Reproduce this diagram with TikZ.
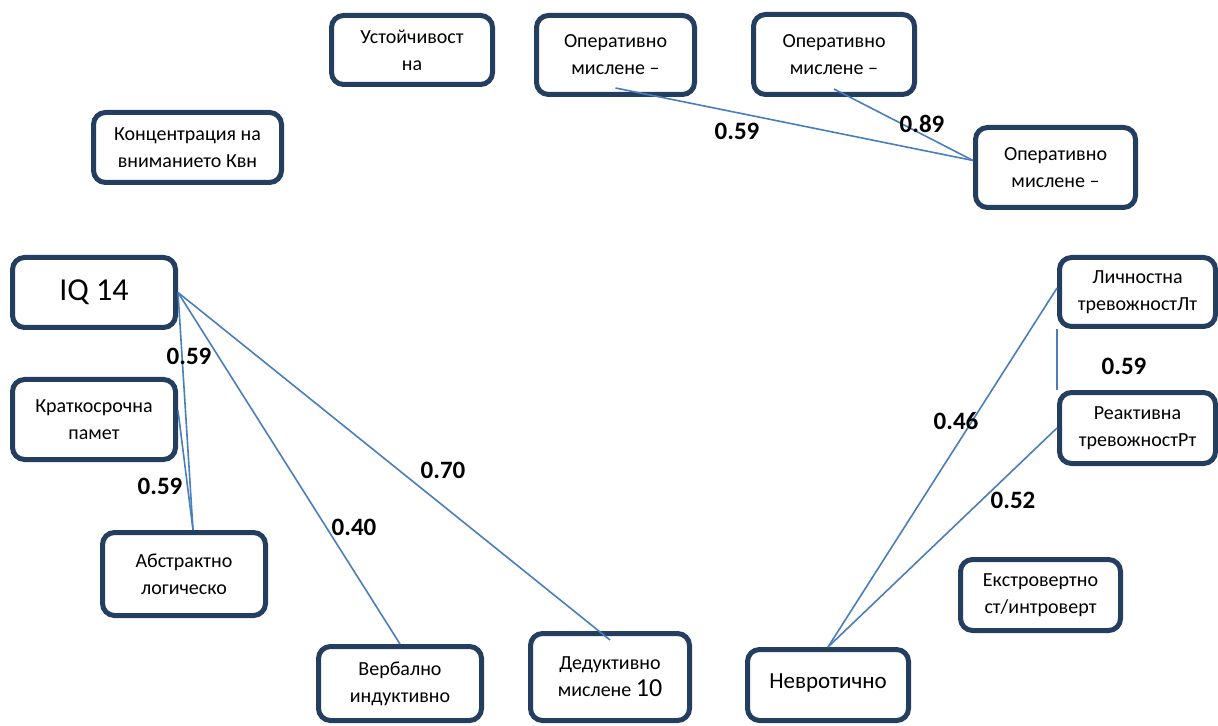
\documentclass[tikz,border=0pt]{standalone}
\usepackage{fontspec}
\setmainfont{Carlito}
\usetikzlibrary{positioning}

\definecolor{boxline}{RGB}{36,62,96}
\definecolor{linkline}{RGB}{74,126,187}

\begin{document}
\begin{tikzpicture}[
    x=0.5pt, y=-0.5pt,
    factor/.style={draw=boxline, line width=2.5pt, rectangle, rounded corners=6pt, align=center, inner sep=2pt, font=\fontsize{10}{13.5}\selectfont},
    link/.style={draw=linkline, line width=0.8pt},
    coef/.style={font=\bfseries\fontsize{12.5}{15}\selectfont}
]
\useasboundingbox (0,0) rectangle (1218,726);

% Components
\node[factor, minimum width=80.5pt, minimum height=34.5pt] (ustoich) at (412,50) {Устойчивост\\на};
\node[factor, minimum width=79pt, minimum height=39.5pt] (opmid) at (615.5,55) {Оперативно\\мислене –};
\node[factor, minimum width=80.5pt, minimum height=40pt] (optop) at (834,54.5) {Оперативно\\мислене –};
\node[factor, minimum width=80pt, minimum height=40pt] (opright) at (1055.5,167.5) {Оперативно\\мислене –};
\node[factor, minimum width=94pt, minimum height=35pt] (koncentr) at (187.5,147.5) {Концентрация на\\вниманието Квн};
\node[factor, minimum width=81.5pt, minimum height=35pt, font=\fontsize{16}{19}\selectfont] (iq) at (94,292.5) {IQ 14};
\node[factor, minimum width=81.5pt, minimum height=40pt] (kratko) at (94,419.5) {Краткосрочна\\памет};
\node[factor, minimum width=81.5pt, minimum height=41.5pt] (abstrakt) at (184,574) {Абстрактно\\логическо};
\node[factor, minimum width=81.5pt, minimum height=37pt] (verbal) at (400,683.5) {Вербално\\индуктивно};
\node[factor, minimum width=79.5pt, minimum height=43.5pt] (deduktiv) at (610,677) {Дедуктивно\\мислене {\fontsize{13}{15}\selectfont 10}};
\node[factor, minimum width=80.5pt, minimum height=35.5pt, font=\fontsize{11.5}{14}\selectfont] (nevrot) at (828,685) {\raisebox{3.5pt}{Невротично}};
\node[factor, minimum width=78pt, minimum height=34.5pt] (lichn) at (1137.5,292) {Личностна\\тревожностЛт};
\node[factor, minimum width=78pt, minimum height=35.5pt] (reakt) at (1137.5,428) {Реактивна\\тревожностРт};
\node[factor, minimum width=80pt, minimum height=35.5pt] (ekstr) at (1040.5,595) {Екстровертно\\ст/интроверт};

% Connections
\draw[link] ([yshift=4.5pt]opmid.south) -- ([yshift=3.5pt]opright.west);
\draw[link] ([yshift=4pt]optop.south) -- ([yshift=3.5pt]opright.west);
\draw[link] (iq.east) -- ([xshift=4.5pt]abstrakt.north);
\draw[link] ([yshift=4.5pt]kratko.east) -- ([xshift=4.5pt]abstrakt.north);
\draw[link] (iq.east) -- (verbal.north);
\draw[link] (iq.east) -- ([yshift=-4.5pt]deduktiv.north);
\draw[link] (nevrot.north) -- ([yshift=2pt]lichn.west);
\draw[link] (nevrot.north) -- (reakt.west);
\draw[link] (lichn.south west) -- (reakt.north west);

% Labels
\node[coef] (c_op_mid) at (737,131) {0.59};
\node[coef] (c_op_top) at (922,124) {0.89};
\node[coef] (c_iq_abs) at (189,356) {0.59};
\node[coef] (c_kr_abs) at (160,486) {0.59};
\node[coef] (c_iq_verb) at (354,527) {0.40};
\node[coef] (c_iq_ded) at (443,470) {0.70};
\node[coef] (c_lt_rt) at (1124,366) {0.59};
\node[coef] (c_nv_lt) at (956,421) {0.46};
\node[coef] (c_nv_rt) at (1013,500) {0.52};

\end{tikzpicture}
\end{document}
